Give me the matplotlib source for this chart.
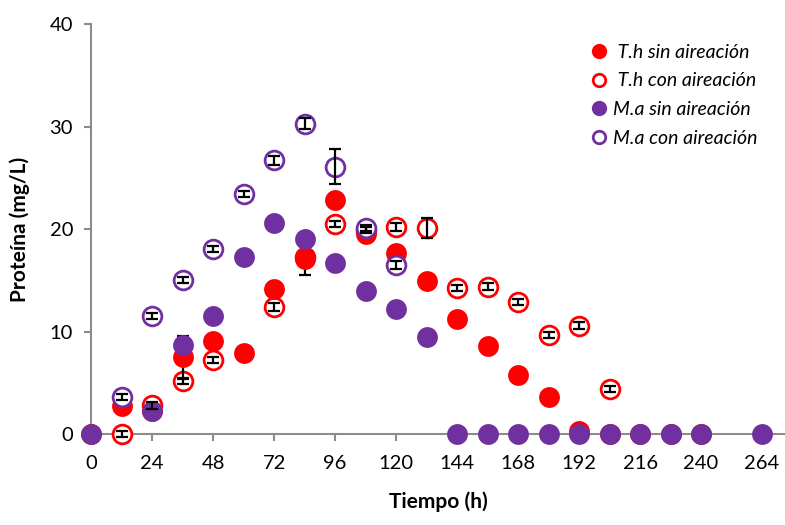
import numpy as np
import matplotlib
matplotlib.use("Agg")
import matplotlib.pyplot as plt
from matplotlib.lines import Line2D

plt.rcParams['font.family'] = ['Lato', 'DejaVu Sans']

nan = np.nan
# tiempo (h)
t = [0, 12, 24, 36, 48, 60, 72, 84, 96, 108, 120, 132, 144, 156, 168, 180,
     192, 204, 216, 228, 240, 264]

# T.h sin aireacion
th_sin = [0, 2.7, 2.3, 7.5, 9.1, 7.9, 14.2, 17.1, 22.8, 19.5, 17.7, 14.9,
          11.2, 8.6, 5.8, 3.6, 0.3, 0, 0, 0, 0, nan]
th_sin_lo = [0, 0, 0, 2.1, 0, 0, 0, 1.6, 0, 0, 0, 0, 0, 0, 0, 0, 0, 0, 0, 0, 0, 0]
th_sin_hi = [0, 0, 0, 2.1, 0, 0, 0, 0, 0, 0, 0, 0, 0, 0, 0, 0, 0, 0, 0, 0, 0, 0]

# T.h con aireacion
th_con = [nan, 0, 2.8, 5.2, 7.2, nan, 12.4, 17.3, 20.5, 19.9, 20.2, 20.1,
          14.3, 14.4, 12.9, 9.7, 10.6, 4.4, nan, nan, nan, nan]
th_con_err = [0, 0.3, 0.3, 0.3, 0.3, 0, 0.4, 0, 0.3, 0.3, 0.4, 1.0,
              0.3, 0.3, 0.3, 0.3, 0.3, 0.3, 0, 0, 0, 0]

# M.a sin aireacion
ma_sin = [0, nan, 2.3, 8.7, 11.5, 17.3, 20.6, 19.0, 16.7, 14.0, 12.2, 9.5,
          0, 0, 0, 0, 0, 0, 0, 0, 0, 0]

# M.a con aireacion
ma_con = [nan, 3.6, 11.5, 15.0, 18.1, 23.4, 26.7, 30.3, 26.1, 20.1, 16.5, nan,
          nan, nan, nan, nan, nan, nan, nan, nan, nan, nan]
ma_con_err = [0, 0.3, 0.3, 0.3, 0.3, 0.3, 0.4, 0.5, 1.7, 0.3, 0.4, 0,
              0, 0, 0, 0, 0, 0, 0, 0, 0, 0]

red = '#ff0000'
purple = '#7030a0'
ms = 15


def barras(ax, x, y, lo, hi, z):
    # solo donde hay barra de error
    x, y, lo, hi = map(np.asarray, (x, y, lo, hi))
    m = ((lo > 0) | (hi > 0)) & ~np.isnan(y)
    ax.errorbar(x[m], y[m], yerr=[lo[m], hi[m]], fmt='none', ecolor='black',
                elinewidth=1.6, capsize=4, capthick=1.6, zorder=z, clip_on=False)


fig = plt.figure(figsize=(7.85, 5.25), dpi=100)
ax = fig.add_axes([0.116, 0.173, 0.884, 0.781])

# orden de dibujo: T.h con, T.h sin, M.a sin, M.a con
ax.plot(t, th_con, 'o', ms=ms - 1.5, mfc='white', mec=red, mew=2, zorder=3,
        clip_on=False)
barras(ax, t, th_con, th_con_err, th_con_err, 6)
ax.plot(t, th_sin, 'o', ms=ms, color=red, mec='none', zorder=4, clip_on=False)
barras(ax, t, th_sin, th_sin_lo, th_sin_hi, 3.5)
ax.plot(t, ma_sin, 'o', ms=ms, color=purple, mec='none', zorder=5,
        clip_on=False)
ax.plot(t, ma_con, 'o', ms=ms - 1.5, mfc='white', mec=purple, mew=2, zorder=5.5,
        clip_on=False)
barras(ax, t, ma_con, ma_con_err, ma_con_err, 6)

ax.set_xlim(0, 273)
ax.set_ylim(0, 40)
ax.set_xticks(range(0, 265, 24))
ax.set_yticks(range(0, 41, 10))

for s in ['top', 'right']:
    ax.spines[s].set_visible(False)
for s in ['left', 'bottom']:
    ax.spines[s].set_color('#8c8c8c')
    ax.spines[s].set_linewidth(1.5)
    ax.spines[s].set_zorder(1)
ax.tick_params(axis='both', direction='out', length=5, width=1.5,
               color='#8c8c8c', labelsize=14.5, labelcolor='black')
ax.tick_params(axis='x', pad=10)
ax.tick_params(axis='y', pad=8)

ax.set_xlabel('Tiempo (h)', fontsize=15, fontweight='bold', labelpad=14)
ax.set_ylabel('Proteína (mg/L)', fontsize=15, fontweight='bold', labelpad=14)

handles = [
    Line2D([], [], ls='none', marker='o', ms=11, color=red, mec='none'),
    Line2D([], [], ls='none', marker='o', ms=9, mfc='white', mec=red, mew=2),
    Line2D([], [], ls='none', marker='o', ms=11, color=purple, mec='none'),
    Line2D([], [], ls='none', marker='o', ms=9, mfc='white', mec=purple, mew=2),
]
labels = [' T.h sin aireación', ' T.h con aireación', 'M.a sin aireación',
          'M.a con aireación']
leg = ax.legend(handles, labels, loc='upper right', bbox_to_anchor=(0.985, 0.995),
                frameon=False, handlelength=0.8, handletextpad=0.3,
                labelspacing=0.6, prop={'style': 'italic', 'size': 14})

fig.savefig('out.png', dpi=100)
